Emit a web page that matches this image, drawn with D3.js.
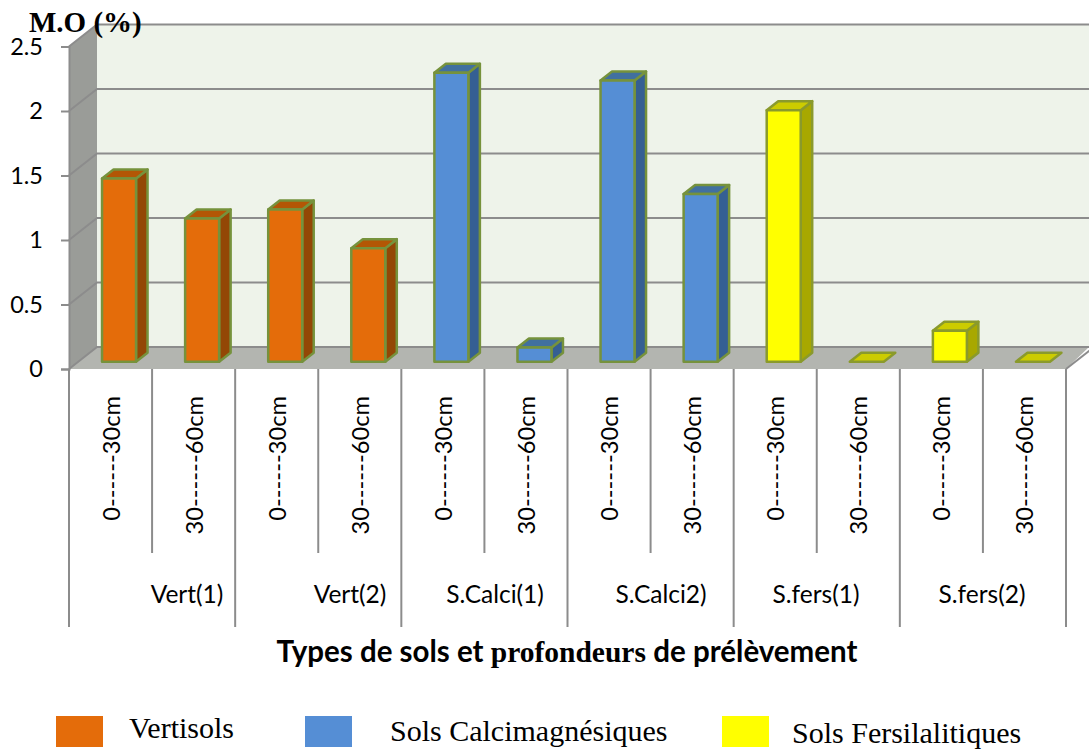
<!DOCTYPE html>
<html>
<head>
<meta charset="utf-8">
<script src="https://cdn.jsdelivr.net/npm/d3@7"></script>
<style>
  html, body { margin: 0; padding: 0; background: #fff; }
  svg { display: block; }
  .sans { font-family: Lato, "Open Sans", sans-serif; }
  .serif { font-family: "Liberation Serif", serif; }
</style>
</head>
<body>
<div class="graph"></div>
<script>
const width = 1089;
const height = 749;

const depths = ['0------30cm', '30------60cm'];
const groups = ['Vert(1)', 'Vert(2)', 'S.Calci(1)', 'S.Calci2)', 'S.fers(1)', 'S.fers(2)'];
const groupTypes = ['vert', 'vert', 'calci', 'calci', 'fers', 'fers'];
const values = [1.42, 1.11, 1.18, 0.88, 2.24, 0.11, 2.18, 1.3, 1.95, 0, 0.24, 0];
const yTicks = [0, 0.5, 1, 1.5, 2, 2.5];
const legendTypes = ['vert', 'calci', 'fers'];
const legendLabels = ['Vertisols', 'Sols Calcimagnésiques', 'Sols Fersilalitiques'];

const color = {
  vert: { front: '#e46c0a', top: '#b35605', side: '#934705', line: '#76923c' },
  calci: { front: '#558ed5', top: '#41709f', side: '#355f93', line: '#76923c' },
  fers: { front: '#ffff00', top: '#cccc00', side: '#a8a800', line: '#8a9a2c' },
  wall: '#9a9c98',
  floor: '#b3b5b0',
  back: '#eef3ea',
  grid: '#8c8c8c',
};

// 3d offset of the back wall against the front plane
const depthX = 28;
const depthY = -22;
const barDepthX = 11.5;
const barDepthY = -9;
const barOffsetX = 8.5;
const barOffsetY = -7.3;

const y = d3.scaleLinear().domain([0, 2.5]).range([369, 46.5]);
const x = d3.scaleBand().domain(d3.range(values.length)).range([69, 1066]);
const gx = d3.scaleBand().domain(groups).range([69, 1066]);
const barWidth = 34;

const svg = d3.select('.graph')
  .append('svg')
    .attr('width', width)
    .attr('height', height)
    .attr('viewBox', [0, 0, width, height]);

const poly = pts => d3.line()(pts) + 'Z';
const [x0, x1] = x.range();

// walls
svg.append('path')
  .attr('fill', color.back)
  .attr('d', poly([[x0 + depthX, y(2.5) + depthY], [width, y(2.5) + depthY], [width, y(0) + depthY], [x0 + depthX, y(0) + depthY]]));
svg.append('path')
  .attr('fill', color.wall)
  .attr('d', poly([[x0, y(2.5)], [x0 + depthX, y(2.5) + depthY], [x0 + depthX, y(0) + depthY], [x0, y(0)]]));
svg.append('path')
  .attr('fill', color.floor)
  .attr('d', poly([[x0, y(0)], [x0 + depthX, y(0) + depthY], [width, y(0) + depthY], [x1, y(0)]]));

// gridlines, running along the side wall and across the back
svg.append('g')
  .selectAll('path')
  .data(yTicks)
  .join('path')
    .attr('fill', 'none')
    .attr('stroke', color.grid)
    .attr('stroke-width', 2)
    .attr('d', d => d3.line()([[x0, y(d)], [x0 + depthX, y(d) + depthY], [width, y(d) + depthY]]));

svg.append('path')
  .attr('fill', 'none')
  .attr('stroke', color.grid)
  .attr('stroke-width', 2)
  .attr('d', d3.line()([[x1, y(0)], [x1 + depthX, y(0) + depthY]]));

// y axis
const yAxis = svg.append('g')
  .attr('transform', `translate(${x0},0)`)
  .call(d3.axisLeft(y).tickValues(yTicks).tickFormat(d => d).tickSize(8).tickPadding(18));
yAxis.select('.domain').attr('stroke', color.grid).attr('stroke-width', 2);
yAxis.selectAll('.tick line').attr('stroke', color.grid).attr('stroke-width', 2);
yAxis.selectAll('.tick text')
  .attr('class', 'sans')
  .attr('font-size', 23.5)
  .attr('fill', '#000');

// bars
const barData = values.map((v, i) => ({ v, i, type: groupTypes[Math.floor(i / 2)] }));
const barLeft = d => x(d.i) + x.bandwidth() / 2 + barOffsetX - barWidth / 2;
const barTop = d => y(d.v) + barOffsetY;
const barBase = y(0) + barOffsetY;

const bars = svg.append('g')
  .selectAll('g')
  .data(barData)
  .join('g')
    .attr('stroke', d => color[d.type].line)
    .attr('stroke-width', 2.5)
    .attr('stroke-linejoin', 'round');

bars.filter(d => d.v > 0).append('path')
  .attr('fill', d => color[d.type].side)
  .attr('d', d => {
    const r = barLeft(d) + barWidth;
    return poly([[r, barTop(d)], [r + barDepthX, barTop(d) + barDepthY], [r + barDepthX, barBase + barDepthY], [r, barBase]]);
  });

bars.append('path')
  .attr('fill', d => color[d.type].top)
  .attr('d', d => {
    const l = barLeft(d);
    return poly([[l, barTop(d)], [l + barDepthX, barTop(d) + barDepthY], [l + barWidth + barDepthX, barTop(d) + barDepthY], [l + barWidth, barTop(d)]]);
  });

bars.filter(d => d.v > 0).append('rect')
  .attr('fill', d => color[d.type].front)
  .attr('x', barLeft)
  .attr('y', barTop)
  .attr('width', barWidth)
  .attr('height', d => barBase - barTop(d));

// category table below the axis
const shortTicks = d3.range(values.length).filter(i => i % 2 === 1);
svg.append('g')
  .selectAll('line')
  .data(shortTicks)
  .join('line')
    .attr('x1', d => x(d))
    .attr('x2', d => x(d))
    .attr('y1', y(0))
    .attr('y2', 553)
    .attr('stroke', color.grid)
    .attr('stroke-width', 2);

svg.append('g')
  .selectAll('line')
  .data(groups.map(gx).concat([x1]))
  .join('line')
    .attr('x1', d => d)
    .attr('x2', d => d)
    .attr('y1', y(0))
    .attr('y2', 627)
    .attr('stroke', color.grid)
    .attr('stroke-width', 2);

svg.append('g')
  .selectAll('text')
  .data(values)
  .join('text')
    .attr('class', 'sans')
    .attr('font-size', 23.7)
    .attr('text-anchor', 'end')
    .attr('transform', (d, i) => `translate(${x(i) + x.bandwidth() / 2 + 9},396) rotate(-90)`)
    .text((d, i) => depths[i % 2]);

const groupLabelX = [187, 350, 495, 661, 816, 982];
svg.append('g')
  .selectAll('text')
  .data(groups)
  .join('text')
    .attr('class', 'sans')
    .attr('font-size', 24.5)
    .attr('text-anchor', 'middle')
    .attr('x', (d, i) => groupLabelX[i])
    .attr('y', 603)
    .text(d => d);

// titles
svg.append('text')
  .attr('class', 'serif')
  .attr('x', 29)
  .attr('y', 32)
  .attr('font-size', 29)
  .attr('font-weight', 'bold')
  .text('M.O (%)');

const xTitle = svg.append('text')
  .attr('x', 567)
  .attr('y', 662)
  .attr('text-anchor', 'middle')
  .attr('font-size', 29.5)
  .attr('font-weight', 'bold');
xTitle.append('tspan').attr('class', 'sans').text('Types de sols et ');
xTitle.append('tspan').attr('class', 'serif').text('profondeurs ');
xTitle.append('tspan').attr('class', 'sans').text('de prélèvement');

// legend
const legendBoxX = [56, 305, 722];
const legendTextX = [129, 390, 792];
const legendTextY = [738, 741, 743];
svg.append('g')
  .selectAll('rect')
  .data(legendTypes)
  .join('rect')
    .attr('x', (d, i) => legendBoxX[i])
    .attr('y', 716)
    .attr('width', 47)
    .attr('height', 31)
    .attr('fill', d => color[d].front);
svg.append('g')
  .selectAll('text')
  .data(legendLabels)
  .join('text')
    .attr('class', 'serif')
    .attr('x', (d, i) => legendTextX[i])
    .attr('y', (d, i) => legendTextY[i])
    .attr('font-size', 30)
    .attr('fill', '#000')
    .text(d => d);
</script>
</body>
</html>
